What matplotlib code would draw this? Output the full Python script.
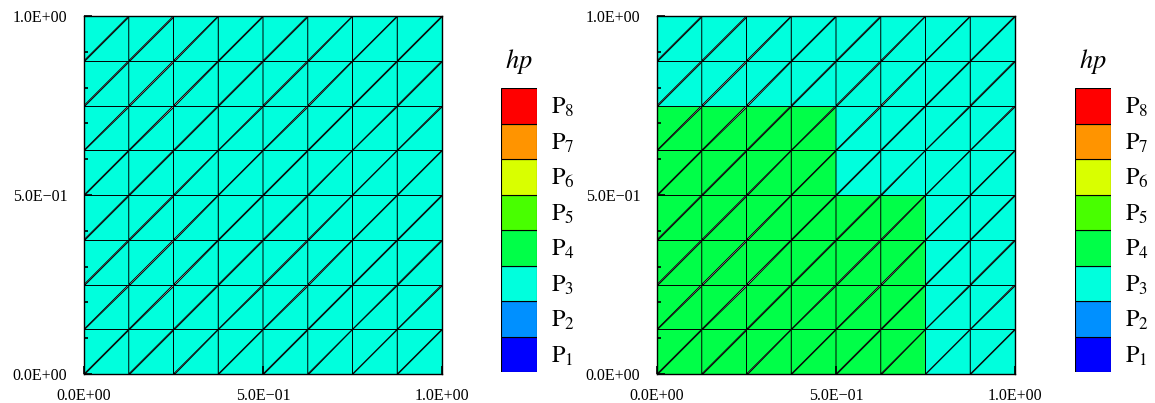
import numpy as np
import matplotlib
matplotlib.use("Agg")
import matplotlib.pyplot as plt
import matplotlib.tri as mtri
from matplotlib.colors import ListedColormap
from matplotlib.ticker import FuncFormatter, MultipleLocator

plt.rcParams['font.family'] = ['Liberation Serif', 'DejaVu Serif']
plt.rcParams['mathtext.fontset'] = 'stix'

# hp levels per mesh cell, rows listed top (y=1) to bottom (y=0)
left_levels = [
    [3, 3, 3, 3, 3, 3, 3, 3],
    [3, 3, 3, 3, 3, 3, 3, 3],
    [3, 3, 3, 3, 3, 3, 3, 3],
    [3, 3, 3, 3, 3, 3, 3, 3],
    [3, 3, 3, 3, 3, 3, 3, 3],
    [3, 3, 3, 3, 3, 3, 3, 3],
    [3, 3, 3, 3, 3, 3, 3, 3],
    [3, 3, 3, 3, 3, 3, 3, 3],
]
right_levels = [
    [3, 3, 3, 3, 3, 3, 3, 3],
    [3, 3, 3, 3, 3, 3, 3, 3],
    [4, 4, 4, 4, 3, 3, 3, 3],
    [4, 4, 4, 4, 3, 3, 3, 3],
    [4, 4, 4, 4, 4, 4, 3, 3],
    [4, 4, 4, 4, 4, 4, 3, 3],
    [4, 4, 4, 4, 4, 4, 3, 3],
    [4, 4, 4, 4, 4, 4, 3, 3],
]
p_orders = [1, 2, 3, 4, 5, 6, 7, 8]
p_colors = ['#0000ff', '#0090ff', '#00ffdd', '#00ff48',
            '#48ff00', '#d9ff00', '#ff9400', '#ff0000']
n = 8

cmap = ListedColormap(p_colors)


def mesh():
    xs = np.linspace(0, 1, n + 1)
    X, Y = np.meshgrid(xs, xs)
    tris = []
    for j in range(n):
        for i in range(n):
            bl = j * (n + 1) + i
            br = bl + 1
            tl = bl + n + 1
            tr = tl + 1
            tris.append([bl, br, tr])
            tris.append([bl, tr, tl])
    return mtri.Triangulation(X.ravel(), Y.ravel(), np.array(tris))


def fmt(v, pos):
    return ("%.1E" % v).replace('-', '\u2212')


def panel(ax, levels):
    tri = mesh()
    lv = np.array(levels)[::-1]  # row 0 = bottom
    fc = np.repeat(lv.ravel(), 2).astype(float)
    ax.tripcolor(tri, facecolors=fc, cmap=cmap, vmin=0.5, vmax=8.5,
                 edgecolors='black', linewidth=0.7)
    ax.set_xlim(0, 1)
    ax.set_ylim(0, 1)
    ax.set_xticks([0, 0.5, 1.0])
    ax.set_yticks([0, 0.5, 1.0])
    ax.yaxis.set_minor_locator(MultipleLocator(0.1))
    ax.xaxis.set_major_formatter(FuncFormatter(fmt))
    ax.yaxis.set_major_formatter(FuncFormatter(fmt))
    ax.tick_params(which='major', direction='in', length=6, width=1.2,
                   labelsize=11.5, top=False, right=False)
    ax.tick_params(axis='y', which='major', pad=12)
    ax.tick_params(axis='x', which='major', pad=10)
    ax.tick_params(which='minor', direction='in', length=3, width=1.2)
    for s in ax.spines.values():
        s.set_linewidth(1.0)


def colorbar(cax):
    cax.bar([0] * len(p_orders), [1] * len(p_orders),
            bottom=[p - 1 for p in p_orders], color=p_colors,
            edgecolor='black', linewidth=0.8, width=1.0)
    cax.set_xlim(-0.5, 0.5)
    cax.set_ylim(0, len(p_orders))
    cax.axis('off')
    for p in p_orders:
        cax.text(0.88, p - 0.55, r'$\mathrm{P}_{%d}$' % p, fontsize=17.5,
                 ha='left', va='center')
    cax.text(0, len(p_orders) + 0.75, r'$hp$', fontsize=19,
             ha='center', va='center')


fig = plt.figure(figsize=(11.55, 4.03), dpi=100)
ax1 = fig.add_axes([84 / 1155, 1 - 374 / 403, 358 / 1155, 358 / 403])
ax2 = fig.add_axes([657 / 1155, 1 - 374 / 403, 358 / 1155, 358 / 403])
cax1 = fig.add_axes([501 / 1155, 1 - 372 / 403, 36 / 1155, 284 / 403])
cax2 = fig.add_axes([1075 / 1155, 1 - 372 / 403, 36 / 1155, 284 / 403])

panel(ax1, left_levels)
panel(ax2, right_levels)
colorbar(cax1)
colorbar(cax2)

fig.savefig('out.png', dpi=100)
